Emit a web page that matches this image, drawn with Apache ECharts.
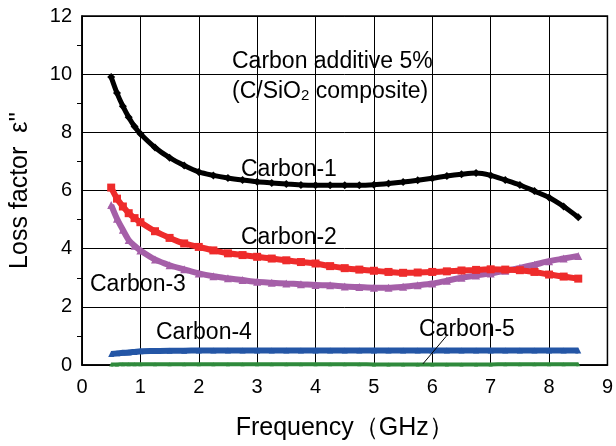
<!DOCTYPE html>
<html>
<head>
<meta charset="utf-8">
<script src="https://cdn.jsdelivr.net/npm/echarts@6/dist/echarts.min.js"></script>
<style>html,body{margin:0;padding:0;background:#fff;overflow:hidden;}#c{width:616px;height:446px;}</style>
</head>
<body>
<div id="c"></div>
<script>
const freq = [0.5,0.6,0.7,0.8,0.9,1.0,1.25,1.5,1.75,2.0,2.25,2.5,2.75,3.0,3.25,3.5,3.75,4.0,4.25,4.5,4.75,5.0,5.25,5.5,5.75,6.0,6.25,6.5,6.75,7.0,7.25,7.5,7.75,8.0,8.25,8.5];
const carbon1 = [9.9,9.35,8.9,8.52,8.2,7.95,7.48,7.13,6.86,6.64,6.52,6.43,6.36,6.3,6.26,6.22,6.19,6.18,6.18,6.18,6.18,6.2,6.24,6.29,6.35,6.42,6.5,6.56,6.6,6.52,6.36,6.19,5.98,5.76,5.45,5.08];
const carbon2 = [6.1,5.72,5.45,5.22,5.05,4.91,4.6,4.37,4.18,4.06,3.94,3.84,3.78,3.72,3.66,3.6,3.54,3.49,3.4,3.33,3.28,3.24,3.2,3.17,3.18,3.2,3.22,3.25,3.27,3.29,3.28,3.26,3.2,3.11,3.04,2.97];
const carbon3 = [5.5,5.03,4.65,4.3,4.1,3.94,3.63,3.43,3.29,3.15,3.05,2.98,2.92,2.86,2.83,2.8,2.78,2.75,2.74,2.7,2.68,2.66,2.66,2.69,2.74,2.8,2.9,3.0,3.08,3.15,3.24,3.34,3.45,3.57,3.66,3.75];
const carbon4 = [0.38,0.4,0.42,0.43,0.45,0.47,0.48,0.49,0.49,0.5,0.5,0.5,0.5,0.5,0.5,0.5,0.5,0.5,0.5,0.5,0.5,0.5,0.5,0.5,0.5,0.5,0.5,0.5,0.5,0.5,0.5,0.5,0.5,0.5,0.5,0.5];
const carbon5 = [0.02,0.02,0.03,0.03,0.03,0.03,0.03,0.03,0.03,0.03,0.03,0.03,0.03,0.03,0.03,0.03,0.03,0.03,0.03,0.03,0.03,0.02,0.02,0.02,0.02,0.02,0.02,0.02,0.02,0.02,0.03,0.03,0.03,0.03,0.03,0.03];
const xTicks = [0,1,2,3,4,5,6,7,8,9];
const yTicks = [0,2,4,6,8,10,12];
const seriesNames = ['Carbon-1','Carbon-2','Carbon-3','Carbon-4','Carbon-5'];
const seriesValues = [carbon1, carbon2, carbon3, carbon4, carbon5];
const colors = ['#000000','#ee2b2b','#a55fa8','#2456a6','#2f8a3c'];
const symbols = ['diamond','rect','triangle','triangle','triangle'];
const widths = [5,6,6,6,4];
const symSizes = [8,8,8,6,4];
const leader5 = [[6.24,0.99],[5.84,0.04]];

const font = 'Liberation Sans, Arial, sans-serif';
const chart = echarts.init(document.getElementById('c'), null, {renderer:'canvas'});
const series = seriesValues.map((vals,i)=>({
  name: seriesNames[i],
  type: 'line',
  data: freq.map((f,j)=>[f, vals[j]]),
  smooth: 0.3,
  symbol: symbols[i],
  symbolSize: symSizes[i],
  showSymbol: true,
  itemStyle: {color: colors[i]},
  lineStyle: {color: colors[i], width: widths[i]},
  animation: false,
  z: 5 - i + 2
}));
series[4].markLine = {
  silent: true, symbol: 'none', animation: false,
  lineStyle: {color:'#000', width:1, type:'solid'},
  label: {show:false},
  data: [[{coord: leader5[0]},{coord: leader5[1]}]]
};
chart.setOption({
  animation: false,
  backgroundColor: '#fff',
  grid: {left:81, right:6, top:16, bottom:79, show:true, borderColor:'#000', borderWidth:1.5},
  xAxis: {
    type:'value', min:xTicks[0], max:xTicks[xTicks.length-1], interval:1,
    name:'Frequency（GHz）', nameLocation:'middle', nameGap:51,
    nameTextStyle:{fontFamily:font, fontSize:25, color:'#000'},
    axisLine:{lineStyle:{color:'#000', width:1.5}},
    axisTick:{show:false},
    axisLabel:{fontFamily:font, fontSize:20, color:'#000', margin:12},
    splitLine:{show:true, lineStyle:{color:'#000', width:1}}
  },
  yAxis: {
    type:'value', min:yTicks[0], max:yTicks[yTicks.length-1], interval:2,
    name:"Loss factor  ε''", nameLocation:'middle', nameGap:49,
    nameTextStyle:{fontFamily:font, fontSize:25, color:'#000'},
    axisLine:{show:true, lineStyle:{color:'#000', width:1.5}},
    axisTick:{show:false},
    minorTick:{show:true, splitNumber:2, length:5, lineStyle:{color:'#000', width:1}},
    axisLabel:{fontFamily:font, fontSize:20, color:'#000', margin:10},
    splitLine:{show:true, lineStyle:{color:'#000', width:1}}
  },
  series: series,
  graphic: [
    {type:'text', left:232, top:50, style:{text:'Carbon additive 5%', font:'23px '+font, fill:'#000'}},
    {type:'text', left:232, top:80, style:{rich:{n:{font:'23px '+font, fill:'#000'}, s:{font:'15px '+font, fill:'#000', verticalAlign:'bottom', padding:[9,0,0,0]}}, text:'{n|(C/SiO}{s|2}{n| composite)}', font:'23px '+font, fill:'#000'}},
    {type:'text', left:241, top:158, style:{text:'Carbon-1', font:'23px '+font, fill:'#000'}},
    {type:'text', left:241, top:226, style:{text:'Carbon-2', font:'23px '+font, fill:'#000'}},
    {type:'text', left:90, top:273, style:{text:'Carbon-3', font:'23px '+font, fill:'#000'}},
    {type:'text', left:156, top:321, style:{text:'Carbon-4', font:'23px '+font, fill:'#000'}},
    {type:'text', left:419, top:318, style:{text:'Carbon-5', font:'23px '+font, fill:'#000'}}
  ]
});
</script>
</body>
</html>
